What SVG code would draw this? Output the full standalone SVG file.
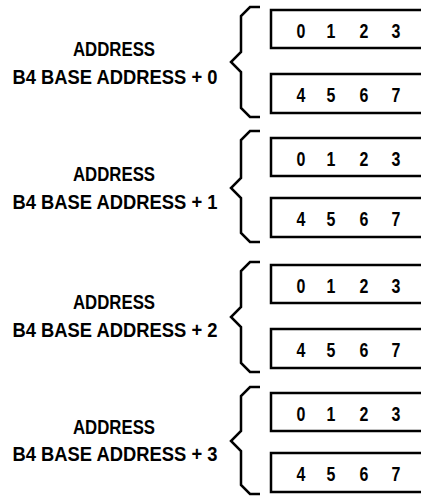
<svg xmlns="http://www.w3.org/2000/svg" width="421" height="498" viewBox="0 0 421 498">
<style>
.lbl{font-family:"Liberation Sans",Arial,sans-serif;font-weight:bold;font-size:20px;fill:#000;text-anchor:middle}
.dg{font-family:"Liberation Sans",Arial,sans-serif;font-weight:bold;font-size:21px;fill:#000;text-anchor:middle}
.box{fill:none;stroke:#000;stroke-width:2.5}
.brace{fill:none;stroke:#000;stroke-width:2.5;stroke-linejoin:miter}
</style>
<rect width="421" height="498" fill="#fff"/>
<g id="connectors">
<path class="brace" d="M260,7 H250 L241,16 V52 L231,62 L241,72 V108 L250,117 H260"/>
<path class="brace" d="M260,131 H250 L241,140 V178 L231,188 L241,198 V233 L250,242 H260"/>
<path class="brace" d="M260,262 H250 L241,271 V307 L231,317 L241,327 V363 L250,372 H260"/>
<path class="brace" d="M260,387 H250 L241,396 V431 L231,441 L241,451 V485 L250,494 H260"/>
</g>
<g id="label0">
<text class="lbl" x="114" y="55.5" textLength="82" lengthAdjust="spacingAndGlyphs">ADDRESS</text>
<text class="lbl" x="115" y="83.5" textLength="205" lengthAdjust="spacingAndGlyphs">B4 BASE ADDRESS + 0</text>
</g>
<g id="label1">
<text class="lbl" x="114" y="180.5" textLength="82" lengthAdjust="spacingAndGlyphs">ADDRESS</text>
<text class="lbl" x="115" y="208.5" textLength="205" lengthAdjust="spacingAndGlyphs">B4 BASE ADDRESS + 1</text>
</g>
<g id="label2">
<text class="lbl" x="114" y="308.5" textLength="82" lengthAdjust="spacingAndGlyphs">ADDRESS</text>
<text class="lbl" x="115" y="336.5" textLength="205" lengthAdjust="spacingAndGlyphs">B4 BASE ADDRESS + 2</text>
</g>
<g id="label3">
<text class="lbl" x="114" y="433.5" textLength="82" lengthAdjust="spacingAndGlyphs">ADDRESS</text>
<text class="lbl" x="115" y="461" textLength="205" lengthAdjust="spacingAndGlyphs">B4 BASE ADDRESS + 3</text>
</g>
<g id="box0a">
<rect class="box" x="271" y="10" width="160" height="38"/>
<text class="dg" transform="translate(301,37.5) scale(0.76,1)">0</text>
<text class="dg" transform="translate(331,37.5) scale(0.76,1)">1</text>
<text class="dg" transform="translate(364,37.5) scale(0.76,1)">2</text>
<text class="dg" transform="translate(396,37.5) scale(0.76,1)">3</text>
</g>
<g id="box0b">
<rect class="box" x="271" y="74" width="160" height="39"/>
<text class="dg" transform="translate(301,102) scale(0.76,1)">4</text>
<text class="dg" transform="translate(331,102) scale(0.76,1)">5</text>
<text class="dg" transform="translate(364,102) scale(0.76,1)">6</text>
<text class="dg" transform="translate(396,102) scale(0.76,1)">7</text>
</g>
<g id="box1a">
<rect class="box" x="271" y="138" width="160" height="38"/>
<text class="dg" transform="translate(301,165.5) scale(0.76,1)">0</text>
<text class="dg" transform="translate(331,165.5) scale(0.76,1)">1</text>
<text class="dg" transform="translate(364,165.5) scale(0.76,1)">2</text>
<text class="dg" transform="translate(396,165.5) scale(0.76,1)">3</text>
</g>
<g id="box1b">
<rect class="box" x="271" y="198" width="160" height="39"/>
<text class="dg" transform="translate(301,226) scale(0.76,1)">4</text>
<text class="dg" transform="translate(331,226) scale(0.76,1)">5</text>
<text class="dg" transform="translate(364,226) scale(0.76,1)">6</text>
<text class="dg" transform="translate(396,226) scale(0.76,1)">7</text>
</g>
<g id="box2a">
<rect class="box" x="271" y="265" width="160" height="38"/>
<text class="dg" transform="translate(301,292.5) scale(0.76,1)">0</text>
<text class="dg" transform="translate(331,292.5) scale(0.76,1)">1</text>
<text class="dg" transform="translate(364,292.5) scale(0.76,1)">2</text>
<text class="dg" transform="translate(396,292.5) scale(0.76,1)">3</text>
</g>
<g id="box2b">
<rect class="box" x="271" y="329" width="160" height="39"/>
<text class="dg" transform="translate(301,357) scale(0.76,1)">4</text>
<text class="dg" transform="translate(331,357) scale(0.76,1)">5</text>
<text class="dg" transform="translate(364,357) scale(0.76,1)">6</text>
<text class="dg" transform="translate(396,357) scale(0.76,1)">7</text>
</g>
<g id="box3a">
<rect class="box" x="271" y="393" width="160" height="38"/>
<text class="dg" transform="translate(301,420.5) scale(0.76,1)">0</text>
<text class="dg" transform="translate(331,420.5) scale(0.76,1)">1</text>
<text class="dg" transform="translate(364,420.5) scale(0.76,1)">2</text>
<text class="dg" transform="translate(396,420.5) scale(0.76,1)">3</text>
</g>
<g id="box3b">
<rect class="box" x="271" y="453" width="160" height="39"/>
<text class="dg" transform="translate(301,481) scale(0.76,1)">4</text>
<text class="dg" transform="translate(331,481) scale(0.76,1)">5</text>
<text class="dg" transform="translate(364,481) scale(0.76,1)">6</text>
<text class="dg" transform="translate(396,481) scale(0.76,1)">7</text>
</g>
</svg>
